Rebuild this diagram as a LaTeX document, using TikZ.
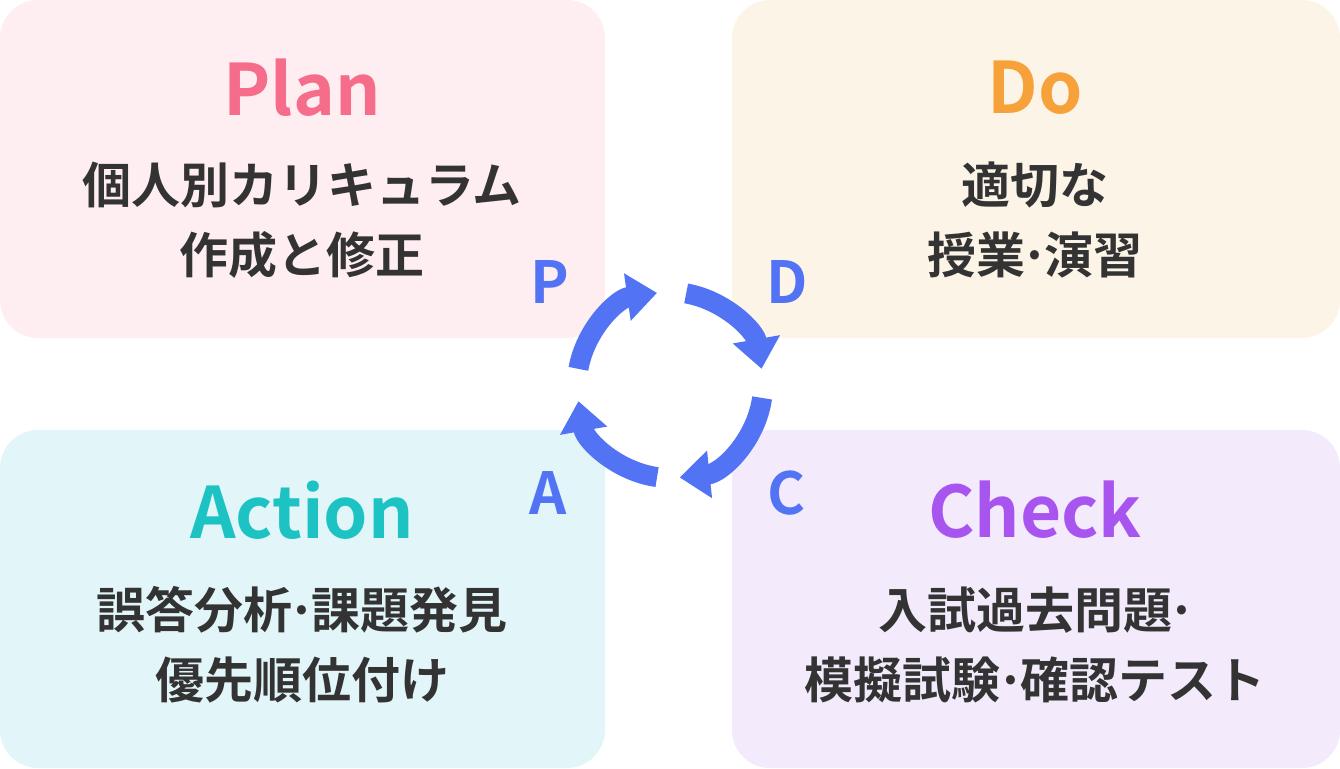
\documentclass[tikz,border=0pt]{standalone}
\usepackage{fontspec}
\setmainfont{Noto Sans CJK JP}
\newfontfamily\jpb{Noto Sans CJK JP Bold}
\usetikzlibrary{arrows.meta}
\definecolor{txt}{HTML}{333333}
\definecolor{arr}{HTML}{5373F5}
\definecolor{bp}{HTML}{FEEEF1}\definecolor{bd}{HTML}{FDF4E8}
\definecolor{ba}{HTML}{E2F6F9}\definecolor{bc}{HTML}{F3EBFC}
\definecolor{cp}{HTML}{F56D8A}\definecolor{cd}{HTML}{F6A13A}
\definecolor{ca}{HTML}{1DC2C2}\definecolor{cc}{HTML}{A855F0}
\tikzset{
 box/.style={rounded corners=38pt},
 ttl/.style={font=\jpb\fontsize{71}{71}\selectfont},
 body/.style={font=\jpb\fontsize{49}{70}\selectfont,text=txt,align=center},
 letter/.style={font=\jpb\fontsize{58}{58}\selectfont,text=arr},
 arc/.style={draw=arr,line width=20pt,-{Triangle[width=46pt,length=30pt]}},
}
\newcommand{\md}{\kern-0.1em·\kern-0.1em}
\begin{document}
\begin{tikzpicture}[x=1pt,y=-1pt]
\useasboundingbox (0,0) rectangle (1340,768);
\fill[box,fill=bp] (0,0) rectangle (605,338);
\fill[box,fill=bd] (732,0) rectangle (1340,338);
\fill[box,fill=ba] (0,430) rectangle (605,768);
\fill[box,fill=bc] (732,430) rectangle (1340,768);
\node[ttl,text=cp] (plan) at (302,88) {Plan};
\node[ttl,text=cd] (do) at (1035,88) {Do};
\node[ttl,text=ca] (action) at (302,510) {Action};
\node[ttl,text=cc] (check) at (1035,510) {Check};
\node[body] (pb) at (302,220) {個人別カリキュラム\\作成と修正};
\node[body] (db) at (1035,220) {適切な\\授業\md 演習};
\node[body] (ab) at (302,645) {誤答分析\md 課題発見\\優先順位付け};
\node[body] (cb) at (1035,645) {入試過去問題\md\\模擬試験\md 確認テスト};
\node[letter] (P) at (550,282) {P};
\node[letter] (D) at (787,282) {D};
\node[letter] (A) at (548,493) {A};
\node[letter] (C) at (787,493) {C};
\coordinate (o) at (670,385);
\draw[arc] (o) ++(-170:93) arc[start angle=-170,end angle=-98,radius=93];
\draw[arc] (o) ++(-80:93) arc[start angle=-80,end angle=-10,radius=93];
\draw[arc] (o) ++(8:93) arc[start angle=8,end angle=84,radius=93];
\draw[arc] (o) ++(98:93) arc[start angle=98,end angle=170,radius=93];
\end{tikzpicture}
\end{document}
